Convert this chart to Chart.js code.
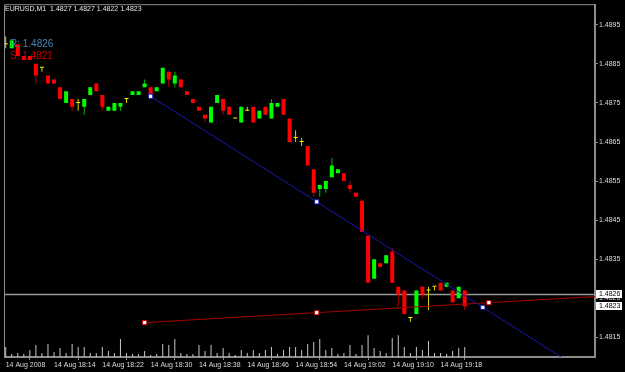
<!DOCTYPE html>
<html>
<head>
<meta charset="utf-8">
<script src="https://cdn.jsdelivr.net/npm/chart.js@4.4.1/dist/chart.umd.min.js"></script>
<style>
  html, body { margin: 0; padding: 0; background: #000; }
  canvas { display: block; }
</style>
</head>
<body>
<canvas id="chart" width="625" height="372"></canvas>
<script>
// EURUSD M1, 14 Aug 2008, one bar per minute from 18:06 to 19:22
const opens = [
    1.4890, 1.4889, 1.4890, 1.4887, 1.4887, 1.4885, 1.4884, 1.4882, 1.4881, 1.4879,
    1.4875, 1.4876, 1.4875, 1.4874, 1.4877, 1.4880, 1.4877, 1.4873, 1.4873, 1.4874,
    1.4876, 1.4877, 1.4877, 1.4879, 1.4879, 1.4878, 1.4880, 1.4883, 1.4880, 1.4881,
    1.4878, 1.4876, 1.4874, 1.4872, 1.4870, 1.4875, 1.4876, 1.4874, 1.4871, 1.4870,
    1.4873, 1.4874, 1.4871, 1.4874, 1.4871, 1.4874, 1.4876, 1.4871, 1.4866, 1.4865,
    1.4864, 1.4858, 1.4853, 1.4853, 1.4856, 1.4857, 1.4857, 1.4854, 1.4852, 1.4850,
    1.4841, 1.4830, 1.4834, 1.4834, 1.4837, 1.4828, 1.4827, 1.4820, 1.4821, 1.4828,
    1.4827, 1.4828, 1.4829, 1.4828, 1.4827, 1.4825, 1.4827
];
const highs = [
    1.4892, 1.4891, 1.4890, 1.4887, 1.4887, 1.4885, 1.4884, 1.4882, 1.4881, 1.4879,
    1.4878, 1.4876, 1.4876, 1.4876, 1.4879, 1.4880, 1.4877, 1.4874, 1.4875, 1.4875,
    1.4876, 1.4878, 1.4878, 1.4881, 1.4879, 1.4879, 1.4884, 1.4883, 1.4883, 1.4881,
    1.4878, 1.4876, 1.4874, 1.4872, 1.4874, 1.4877, 1.4876, 1.4874, 1.4871, 1.4874,
    1.4874, 1.4874, 1.4873, 1.4874, 1.4876, 1.4875, 1.4876, 1.4871, 1.4868, 1.4866,
    1.4864, 1.4858, 1.4854, 1.4855, 1.4861, 1.4858, 1.4857, 1.4855, 1.4852, 1.4850,
    1.4841, 1.4835, 1.4834, 1.4836, 1.4838, 1.4828, 1.4827, 1.4820, 1.4827, 1.4828,
    1.4828, 1.4828, 1.4829, 1.4829, 1.4827, 1.4828, 1.4827
];
const lows = [
    1.4889, 1.4889, 1.4887, 1.4886, 1.4886, 1.4880, 1.4883, 1.4880, 1.4880, 1.4876,
    1.4875, 1.4873, 1.4873, 1.4872, 1.4877, 1.4878, 1.4873, 1.4873, 1.4873, 1.4873,
    1.4875, 1.4877, 1.4877, 1.4879, 1.4877, 1.4878, 1.4880, 1.4879, 1.4879, 1.4879,
    1.4877, 1.4875, 1.4873, 1.4870, 1.4870, 1.4875, 1.4872, 1.4872, 1.4871, 1.4870,
    1.4873, 1.4870, 1.4871, 1.4872, 1.4871, 1.4874, 1.4872, 1.4865, 1.4865, 1.4864,
    1.4859, 1.4851, 1.4851, 1.4852, 1.4856, 1.4857, 1.4855, 1.4852, 1.4851, 1.4842,
    1.4829, 1.4830, 1.4833, 1.4834, 1.4829, 1.4823, 1.4821, 1.4819, 1.4821, 1.4825,
    1.4822, 1.4827, 1.4827, 1.4828, 1.4824, 1.4825, 1.4822
];
const closes = [
    1.4890, 1.4891, 1.4887, 1.4886, 1.4886, 1.4882, 1.4884, 1.4880, 1.4880, 1.4876,
    1.4878, 1.4874, 1.4875, 1.4876, 1.4879, 1.4878, 1.4874, 1.4874, 1.4875, 1.4875,
    1.4876, 1.4878, 1.4878, 1.4880, 1.4877, 1.4879, 1.4884, 1.4881, 1.4882, 1.4879,
    1.4877, 1.4875, 1.4873, 1.4871, 1.4874, 1.4877, 1.4873, 1.4872, 1.4871, 1.4874,
    1.4873, 1.4870, 1.4873, 1.4872, 1.4875, 1.4875, 1.4872, 1.4865, 1.4866, 1.4865,
    1.4859, 1.4852, 1.4854, 1.4855, 1.4859, 1.4858, 1.4855, 1.4853, 1.4851, 1.4842,
    1.4829, 1.4835, 1.4833, 1.4836, 1.4829, 1.4826, 1.4821, 1.4820, 1.4827, 1.4826,
    1.4827, 1.4828, 1.4827, 1.4829, 1.4824, 1.4828, 1.4823
];
// tick volumes
const volumes = [
    20, 6, 8, 6, 14, 24, 8, 26, 10, 18,
    8, 26, 20, 20, 8, 8, 20, 12, 8, 36,
    8, 6, 6, 12, 4, 6, 26, 24, 36, 8,
    6, 6, 24, 12, 24, 8, 18, 8, 4, 14,
    8, 14, 8, 14, 20, 6, 14, 20, 20, 14,
    26, 30, 36, 14, 18, 6, 8, 24, 6, 24,
    44, 18, 12, 8, 38, 44, 20, 8, 20, 14,
    32, 8, 8, 6, 12, 18, 20
];

const xTickBars = [0, 8, 16, 24, 32, 40, 48, 56, 64, 72];
const xTickLabels = ['14 Aug 2008', '14 Aug 18:14', '14 Aug 18:22', '14 Aug 18:30', '14 Aug 18:38',
                     '14 Aug 18:46', '14 Aug 18:54', '14 Aug 19:02', '14 Aug 19:10', '14 Aug 19:18'];
const yTicks = [1.4815, 1.4825, 1.4835, 1.4845, 1.4855, 1.4865, 1.4875, 1.4885, 1.4895];

// trend lines, anchors as [bar, price]
const blueTrend = [[24, 1.48767], [79, 1.48227]];
const redTrend = [[23, 1.48188], [80, 1.48239]];
const resistance = 1.4826;
const support = 1.4821;

const FONT = 'Liberation Sans, Arial, sans-serif';

// line from anchor a to anchor b, with the middle handle and a ray to the right
function trendPoints(t) {
    var a = t[0], b = t[1];
    var slope = (b[1] - a[1]) / (b[0] - a[0]);
    var far = 140;
    return [
        {x: a[0], y: a[1]},
        {x: (a[0] + b[0]) / 2, y: (a[1] + b[1]) / 2},
        {x: b[0], y: b[1]},
        {x: far, y: a[1] + slope * (far - a[0])}
    ];
}

var bodyColors = [], wickColors = [];
for (var i = 0; i < opens.length; i++) {
    if (closes[i] > opens[i]) {
        bodyColors.push('#00ff00'); wickColors.push('#00b800');
    } else if (closes[i] < opens[i]) {
        bodyColors.push('#ff0000'); wickColors.push('#b80000');
    } else {
        bodyColors.push('#ffff00'); wickColors.push('#d8d800');
    }
}

const mtPlugin = {
    id: 'mt4',
    beforeDraw(chart) {
        const ctx = chart.ctx;
        ctx.save();
        ctx.fillStyle = '#000';
        ctx.fillRect(0, 0, chart.width, chart.height);
        ctx.restore();
    },
    beforeDatasetsDraw(chart) {
        // top and left frame
        const a = chart.chartArea, ctx = chart.ctx;
        ctx.save();
        ctx.strokeStyle = '#8c8c8c';
        ctx.lineWidth = 1;
        ctx.beginPath();
        ctx.moveTo(a.left - 0.5, a.bottom);
        ctx.lineTo(a.left - 0.5, a.top - 0.5);
        ctx.lineTo(a.right, a.top - 0.5);
        ctx.stroke();
        ctx.restore();
    },
    afterDraw(chart) {
        const ctx = chart.ctx, a = chart.chartArea, y = chart.scales.y;
        const last = opens.length - 1;
        ctx.save();
        ctx.textBaseline = 'alphabetic';
        ctx.textAlign = 'left';

        ctx.font = '7px ' + FONT;
        ctx.fillStyle = '#e6e6e6';
        ctx.fillText('EURUSD,M1  ' + [opens[last], highs[last], lows[last], closes[last]]
            .map(v => v.toFixed(4)).join(' '), 5, 11);

        ctx.font = '10px ' + FONT;
        ctx.fillStyle = '#4682b4';
        ctx.fillText('R: ' + resistance.toFixed(4), 10, 47);
        ctx.fillStyle = '#c80000';
        ctx.fillText('S: ' + support.toFixed(4), 10, 59);

        // price boxes on the right scale
        ctx.font = '7px ' + FONT;
        ctx.textBaseline = 'middle';
        [resistance, closes[last]].forEach(p => {
            var py = Math.round(y.getPixelForValue(p));
            ctx.fillStyle = '#ffffff';
            ctx.fillRect(a.right + 1, py - 4, 26, 8);
            ctx.fillStyle = '#000000';
            ctx.fillText(p.toFixed(4), a.right + 4, py + 0.5);
        });
        ctx.restore();
    }
};

new Chart(document.getElementById('chart'), {
    type: 'bar',
    data: {
        datasets: [
            {
                type: 'line',
                data: trendPoints(blueTrend),
                borderColor: '#1818b0',
                borderWidth: 1,
                pointStyle: 'rect',
                pointRadius: [3, 3, 3, 0],
                pointBackgroundColor: '#ffffff',
                pointBorderColor: '#1818b0',
                pointBorderWidth: 1,
                tension: 0,
                order: 0
            },
            {
                type: 'line',
                data: trendPoints(redTrend),
                borderColor: '#a80000',
                borderWidth: 1,
                pointStyle: 'rect',
                pointRadius: [3, 3, 3, 0],
                pointBackgroundColor: '#ffffff',
                pointBorderColor: '#c00000',
                pointBorderWidth: 1,
                tension: 0,
                order: 1
            },
            {
                data: opens.map((o, i) => ({x: i, y: [o, closes[i]]})),
                backgroundColor: bodyColors,
                borderWidth: 0,
                barThickness: 4,
                minBarLength: 1,
                grouped: false,
                inflateAmount: 0,
                order: 2
            },
            {
                data: lows.map((l, i) => ({x: i, y: [l, highs[i]]})),
                backgroundColor: wickColors,
                borderWidth: 0,
                barThickness: 1,
                grouped: false,
                inflateAmount: 0,
                order: 3
            },
            {
                type: 'line',
                data: [{x: -5, y: resistance}, {x: 200, y: resistance}],
                borderColor: '#9a9a9a',
                borderWidth: 1.5,
                pointRadius: 0,
                order: 4
            },
            {
                data: volumes.map((v, i) => ({x: i, y: v})),
                yAxisID: 'yv',
                backgroundColor: '#c8c8c8',
                borderWidth: 0,
                barThickness: 1,
                grouped: false,
                inflateAmount: 0,
                order: 5
            }
        ]
    },
    options: {
        responsive: false,
        animation: false,
        devicePixelRatio: 1,
        layout: { padding: { left: 2, top: 3, right: 0, bottom: 0 } },
        plugins: { legend: { display: false }, tooltip: { enabled: false } },
        scales: {
            x: {
                type: 'linear',
                min: -0.115,
                max: 97.57,
                offset: false,
                afterBuildTicks: s => { s.ticks = xTickBars.map(v => ({value: v})); },
                afterFit: s => { s.height = 15; },
                grid: { drawOnChartArea: false, drawTicks: true, tickLength: 3, color: '#8c8c8c' },
                border: { display: true, color: '#8c8c8c', width: 2 },
                ticks: {
                    autoSkip: false,
                    maxRotation: 0,
                    align: 'start',
                    padding: 1,
                    color: '#dcdcdc',
                    font: { family: FONT, size: 7 },
                    callback: (v, i) => xTickLabels[i]
                }
            },
            y: {
                position: 'right',
                min: 1.4810,
                max: 1.4900,
                afterBuildTicks: s => { s.ticks = yTicks.map(v => ({value: v})); },
                afterFit: s => { s.width = 30; },
                grid: { drawOnChartArea: false, drawTicks: true, tickLength: 3, color: '#8c8c8c' },
                border: { display: true, color: '#8c8c8c', width: 2 },
                ticks: {
                    padding: 1,
                    color: '#dcdcdc',
                    font: { family: FONT, size: 7 },
                    callback: v => v.toFixed(4)
                }
            },
            yv: { display: false, min: 0, max: 708 }
        }
    },
    plugins: [mtPlugin]
});
</script>
</body>
</html>
